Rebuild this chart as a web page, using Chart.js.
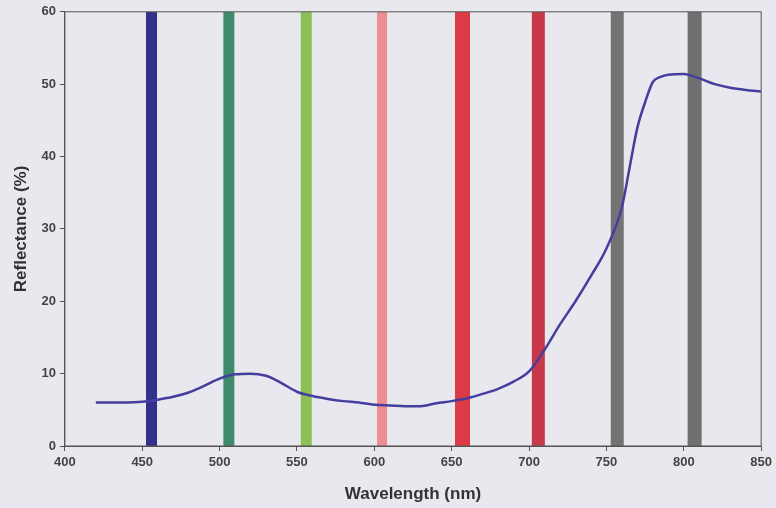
<!DOCTYPE html>
<html>
<head>
<meta charset="utf-8">
<script src="https://cdn.jsdelivr.net/npm/chart.js@4"></script>
<style>
  html, body { margin: 0; padding: 0; background: #e8e8ee; }
  #wrap { width: 776px; height: 508px; }
</style>
</head>
<body>
<div id="wrap"><canvas id="reflectanceChart" width="776" height="508"></canvas></div>
<script>
// reflectance spectrum with filter band positions
const wavelengths = [420, 430, 440, 450, 460, 470, 480, 490, 500, 510, 520, 530, 540, 550, 560, 570, 580, 590, 600, 610,
  620, 630, 640, 650, 660, 670, 680, 690, 700, 710, 720, 730, 740, 750, 760, 765, 770, 775, 780, 785, 790, 800, 810, 820, 830, 840, 850];
const reflectance = [6.0, 6.0, 6.0, 6.1, 6.4, 6.8, 7.4, 8.3, 9.3, 9.9, 10.0, 9.7, 8.7, 7.5, 6.9, 6.5, 6.2, 6.0, 5.7, 5.6,
  5.5, 5.5, 5.9, 6.2, 6.6, 7.2, 7.9, 8.9, 10.3, 13.3, 16.8, 20.0, 23.5, 27.3, 33.0, 38.5, 44.0, 47.5, 50.3, 51.0, 51.3, 51.4, 50.8, 50.0, 49.5, 49.2, 49.0];

// filter band centres (nm)
const bandCenters = [456, 506, 556, 605, 657, 706, 757, 807];
const bandRange = [0, 60];

const xTicks = [400, 450, 500, 550, 600, 650, 700, 750, 800, 850];
const yTicks = [0, 10, 20, 30, 40, 50, 60];

// styling
const bandColors = ['#34308c', '#3e8c6c', '#8cbf55', '#ee8d8f', '#dc3a47', '#c7384a', '#737373', '#707070'];
const bandWidths = [11, 11, 11, 10, 15, 13, 13, 14];

const datasets = [{
  label: 'Reflectance',
  data: wavelengths.map((w, i) => ({ x: w, y: reflectance[i] })),
  borderColor: '#463e9e',
  borderWidth: 2.5,
  pointRadius: 0,
  cubicInterpolationMode: 'monotone',
  order: 0
}];

bandCenters.forEach((c, i) => {
  datasets.push({
    label: 'band ' + c,
    data: bandRange.map(v => ({ x: c, y: v })),
    borderColor: bandColors[i],
    borderWidth: bandWidths[i],
    borderCapStyle: 'butt',
    pointRadius: 0,
    order: 1
  });
});

const frame = {
  id: 'frame',
  afterDatasetsDraw(chart) {
    const { ctx, chartArea: a } = chart;
    ctx.save();
    ctx.strokeStyle = '#555';
    ctx.lineWidth = 1;
    ctx.strokeRect(a.left, a.top, a.right - a.left, a.bottom - a.top);
    ctx.restore();
  }
};

const tickFont = { family: 'Liberation Sans, Arial, sans-serif', size: 13, weight: 'bold' };
const titleFont = { family: 'Liberation Sans, Arial, sans-serif', size: 17, weight: 'bold' };

new Chart(document.getElementById('reflectanceChart').getContext('2d'), {
  type: 'line',
  data: { datasets },
  plugins: [frame],
  options: {
    responsive: false,
    animation: false,
    layout: { padding: { top: 7, right: 13, left: 11, bottom: 3 } },
    plugins: { legend: { display: false }, tooltip: { enabled: false } },
    scales: {
      x: {
        type: 'linear',
        min: 400,
        max: 850,
        afterBuildTicks: axis => { axis.ticks = xTicks.map(v => ({ value: v })); },
        ticks: { color: '#444', font: tickFont, padding: 4, maxRotation: 0 },
        grid: { drawOnChartArea: false, drawTicks: true, tickLength: 5, color: '#555' },
        border: { color: '#555' },
        title: { display: true, text: 'Wavelength (nm)', color: '#333', font: titleFont, padding: { top: 10, bottom: 0 } }
      },
      y: {
        min: 0,
        max: 60,
        afterBuildTicks: axis => { axis.ticks = yTicks.map(v => ({ value: v })); },
        ticks: { color: '#444', font: tickFont, padding: 4 },
        grid: { drawOnChartArea: false, drawTicks: true, tickLength: 5, color: '#555' },
        border: { color: '#555' },
        title: { display: true, text: 'Reflectance (%)', color: '#333', font: titleFont, padding: { top: 0, bottom: 6 } }
      }
    }
  }
});
</script>
</body>
</html>
